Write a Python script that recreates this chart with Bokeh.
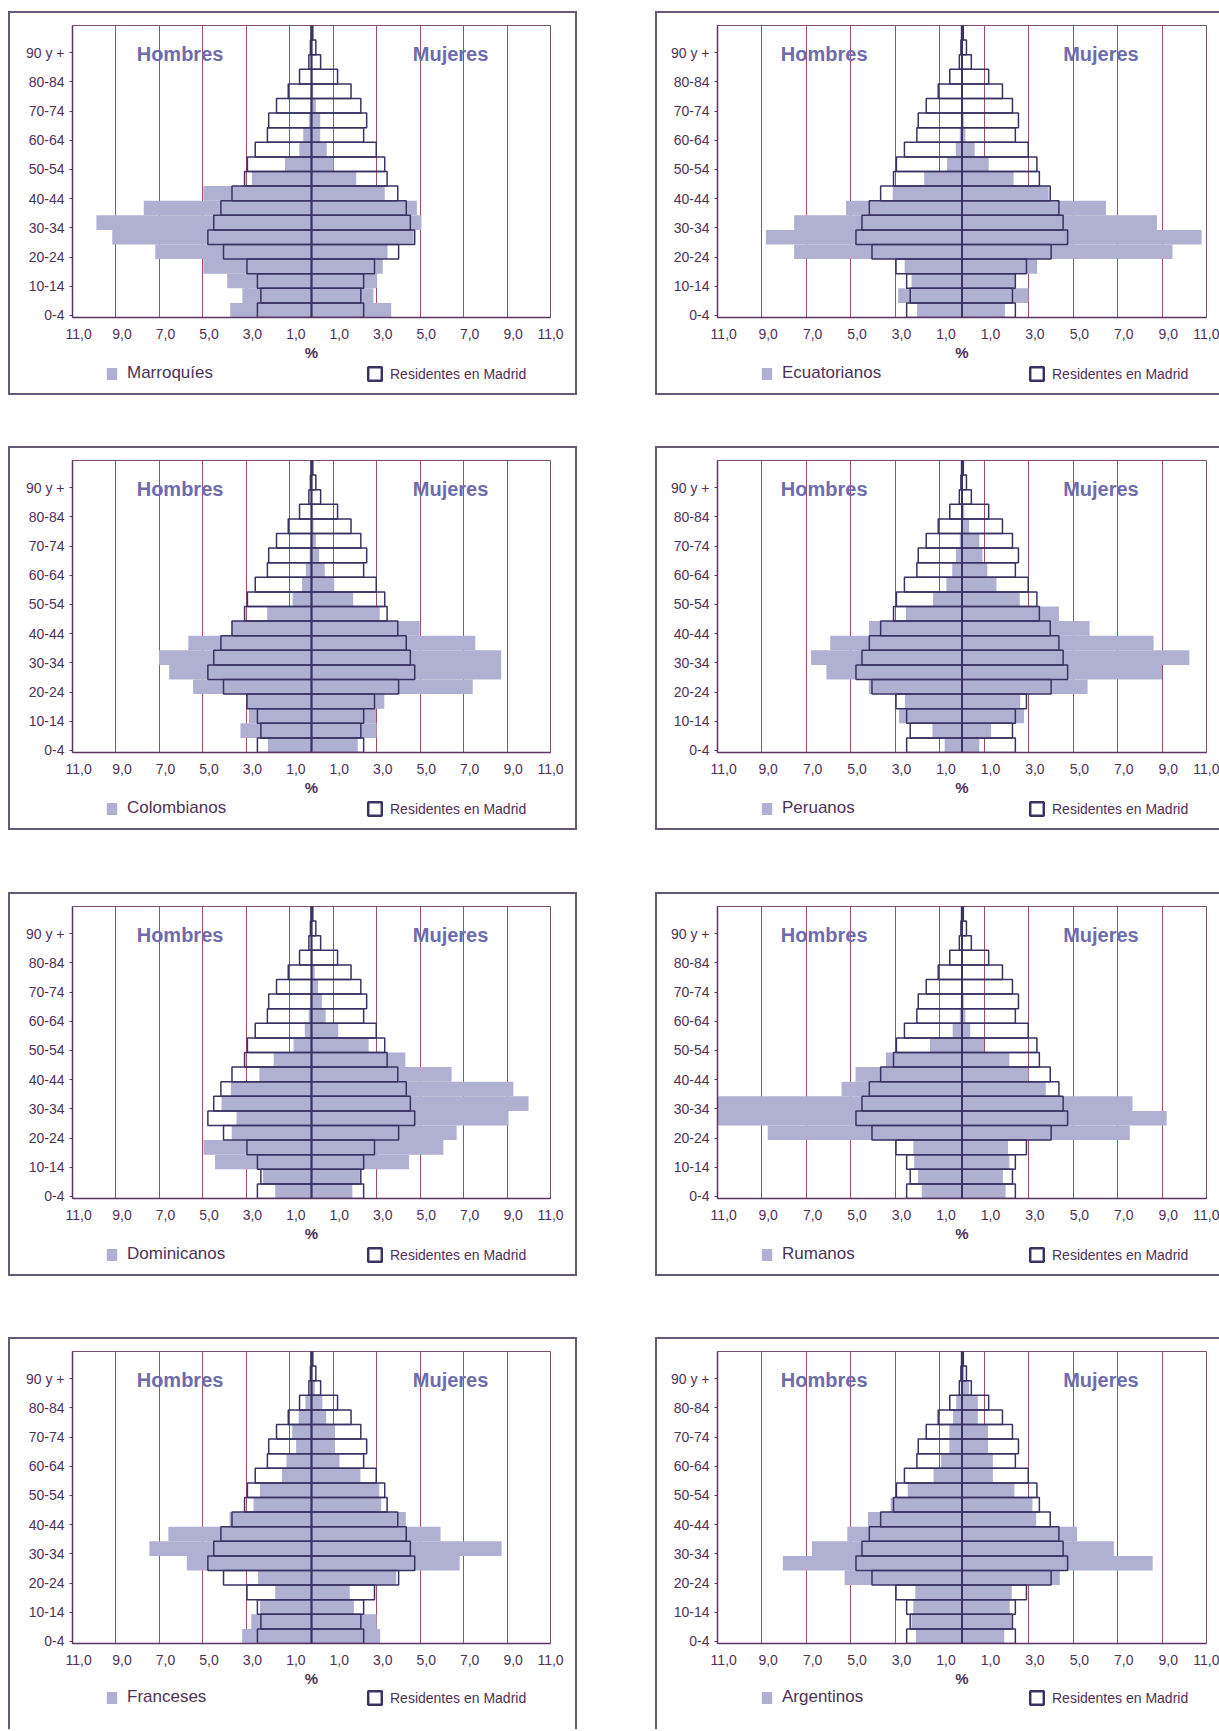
from bokeh.plotting import figure
from bokeh.models import FixedTicker, Span, Label, Legend, LegendItem, Range1d, Spacer
from bokeh.layouts import row, column
from bokeh.embed import file_html
from bokeh.resources import INLINE

# ---------------- data ----------------
AGE_GROUPS = ["0-4", "5-9", "10-14", "15-19", "20-24", "25-29", "30-34", "35-39",
              "40-44", "45-49", "50-54", "55-59", "60-64", "65-69", "70-74", "75-79",
              "80-84", "85-89", "90-94", "95 y +"]
Y_TICK_LABELS = ["0-4", "10-14", "20-24", "30-34", "40-44", "50-54", "60-64",
                 "70-74", "80-84", "90 y +"]
X_TICKS = [-11, -9, -7, -5, -3, -1, 1, 3, 5, 7, 9, 11]
X_TICK_LABELS = ["11,0", "9,0", "7,0", "5,0", "3,0", "1,0",
                 "1,0", "3,0", "5,0", "7,0", "9,0", "11,0"]

madrid_male = [2.49, 2.33, 2.49, 2.97, 4.05, 4.77, 4.50, 4.17, 3.66, 3.08,
               2.95, 2.59, 2.03, 1.97, 1.61, 1.07, 0.55, 0.12, 0.05, 0.02]
madrid_female = [2.40, 2.27, 2.40, 2.90, 4.01, 4.75, 4.55, 4.36, 3.97, 3.48,
                 3.37, 2.98, 2.40, 2.54, 2.27, 1.82, 1.20, 0.42, 0.20, 0.06]

marroquies_male = [3.74, 3.18, 3.88, 4.98, 7.19, 9.17, 9.90, 7.72, 4.98, 2.74,
                   1.22, 0.56, 0.38, 0.12, 0.05, 0.03, 0.02, 0.01, 0.0, 0.0]
marroquies_female = [3.67, 2.85, 3.02, 3.28, 3.50, 4.70, 5.06, 4.85, 3.37, 2.06,
                     1.01, 0.70, 0.40, 0.40, 0.20, 0.08, 0.05, 0.02, 0.01, 0.0]

ecuatorianos_male = [2.02, 2.87, 2.27, 2.58, 7.55, 8.82, 7.55, 5.22, 3.12, 1.70,
                     0.67, 0.28, 0.10, 0.05, 0.03, 0.02, 0.01, 0.01, 0.0, 0.0]
ecuatorianos_female = [1.93, 2.99, 2.41, 3.38, 9.47, 10.78, 8.77, 6.48, 3.90, 2.32,
                       1.20, 0.57, 0.15, 0.08, 0.05, 0.03, 0.02, 0.01, 0.0, 0.0]

colombianos_male = [2.01, 3.27, 2.88, 2.97, 5.45, 6.55, 7.02, 5.67, 3.67, 2.04,
                    0.87, 0.44, 0.26, 0.09, 0.05, 0.03, 0.02, 0.01, 0.0, 0.0]
colombianos_female = [2.13, 3.00, 2.97, 3.35, 7.42, 8.73, 8.73, 7.54, 4.98, 3.14,
                      1.92, 1.05, 0.61, 0.35, 0.20, 0.10, 0.05, 0.02, 0.01, 0.0]

peruanos_male = [0.78, 1.33, 2.83, 2.57, 4.19, 6.10, 6.79, 5.93, 4.19, 2.52,
                 1.30, 0.70, 0.44, 0.27, 0.10, 0.05, 0.02, 0.01, 0.0, 0.0]
peruanos_female = [0.78, 1.31, 2.79, 2.62, 5.65, 9.00, 10.23, 8.62, 5.74, 4.36,
                   2.60, 1.55, 1.14, 0.92, 0.78, 0.32, 0.10, 0.03, 0.01, 0.0]

dominicanos_male = [1.67, 2.23, 4.44, 4.97, 3.67, 3.45, 4.14, 3.71, 2.40, 1.74,
                    0.83, 0.31, 0.13, 0.05, 0.03, 0.02, 0.01, 0.0, 0.0, 0.0]
dominicanos_female = [1.88, 2.23, 4.49, 6.07, 6.68, 9.07, 9.99, 9.29, 6.45, 4.32,
                      2.63, 1.23, 0.65, 0.48, 0.30, 0.15, 0.05, 0.02, 0.0, 0.0]

rumanos_male = [1.81, 1.98, 2.15, 2.19, 8.74, 11.3, 11.3, 5.42, 4.79, 3.42,
                1.44, 0.42, 0.10, 0.05, 0.03, 0.02, 0.01, 0.0, 0.0, 0.0]
rumanos_female = [1.96, 1.84, 2.13, 2.07, 7.55, 9.21, 7.67, 3.77, 2.99, 2.13,
                  0.99, 0.37, 0.15, 0.08, 0.05, 0.03, 0.02, 0.01, 0.0, 0.0]

franceses_male = [3.19, 2.77, 2.37, 1.67, 2.46, 5.74, 7.46, 6.59, 3.77, 2.67,
                  2.37, 1.36, 1.15, 0.71, 0.89, 0.59, 0.28, 0.05, 0.02, 0.01]
franceses_female = [3.16, 3.00, 1.95, 1.76, 3.90, 6.82, 8.75, 5.94, 4.34, 3.21,
                    3.12, 2.25, 1.29, 1.08, 1.08, 0.68, 0.50, 0.15, 0.03, 0.01]

argentinos_male = [2.07, 2.27, 2.19, 2.10, 5.28, 8.06, 6.75, 5.16, 4.23, 3.21,
                   2.44, 1.28, 0.94, 0.57, 0.57, 0.40, 0.26, 0.05, 0.02, 0.01]
argentinos_female = [1.90, 2.24, 2.15, 2.24, 4.40, 8.58, 6.83, 5.18, 3.34, 3.17,
                     2.36, 1.39, 1.39, 1.17, 1.17, 0.71, 0.71, 0.32, 0.10, 0.02]

# ---------------- style ----------------
GRAY_FILL = "#B0B0D2"
BAR_LINE = "#3A3264"
GRID = "#A34C66"
FRAME = "#7B4F70"
AXIS = "#5A3560"
TEXT = "#4E3159"
TITLE = "#6E6CAE"
PANEL_BORDER = "#655A74"
FONT = "Liberation Sans"
BORDER = f"2px solid {PANEL_BORDER}"
LABEL_SHIFT = 0.28   # tick labels sit slightly right of their grid lines in the original


def legend_style(**kw):
    base = dict(orientation="horizontal", padding=0, margin=0, spacing=0,
                border_line_alpha=0, background_fill_alpha=0,
                label_text_font=FONT, label_text_color=TEXT)
    base.update(kw)
    return base


def make_panel(name, male, female, side, last_row):
    left_panel = side == "left"
    width = 569 if left_panel else 564
    mb_left = 62 if left_panel else 60
    mb_right = 29 if left_panel else 15
    mb_bottom = 47
    main_h = 2 + 12 + 290 + mb_bottom
    leg_h = (392 if last_row else 384) - main_h

    ys = [i + 0.5 for i in range(len(AGE_GROUPS))]
    neg = lambda v: [-x for x in v]
    zeros = [0] * len(AGE_GROUPS)

    p = figure(width=width, height=main_h, output_backend="svg", toolbar_location=None,
               x_range=Range1d(-11, 11), y_range=Range1d(0, len(AGE_GROUPS)),
               min_border_left=mb_left, min_border_right=mb_right,
               min_border_top=12, min_border_bottom=mb_bottom,
               background_fill_color="white", border_fill_color="white")

    # country population (grey, filled)
    p.hbar(y=ys, left=neg(male), right=zeros, height=1.0, fill_color=GRAY_FILL, line_alpha=0)
    p.hbar(y=ys, left=zeros, right=female, height=1.0, fill_color=GRAY_FILL, line_alpha=0)
    # Madrid residents (outline only)
    p.hbar(y=ys, left=neg(madrid_male), right=zeros, height=1.0,
           fill_alpha=0, line_color=BAR_LINE, line_width=1.5)
    p.hbar(y=ys, left=zeros, right=madrid_female, height=1.0,
           fill_alpha=0, line_color=BAR_LINE, line_width=1.5)

    p.add_layout(Span(location=0, dimension="height", line_color=BAR_LINE, line_width=1.6))

    # axes
    xlab_pos = [round(min(t + LABEL_SHIFT, 11), 2) for t in X_TICKS]
    p.xaxis.ticker = FixedTicker(ticks=xlab_pos)
    p.xaxis.major_label_overrides = {t: lab for t, lab in zip(xlab_pos, X_TICK_LABELS)}
    p.xaxis.major_label_text_font = FONT
    p.xaxis.major_label_text_font_size = "14px"
    p.xaxis.major_label_text_color = TEXT
    p.xaxis.major_label_standoff = 11
    p.xaxis.major_tick_out = 0
    p.xaxis.major_tick_in = 0
    p.xaxis.minor_tick_line_color = None
    p.xaxis.axis_line_color = AXIS
    p.xaxis.axis_line_width = 1.5
    p.xaxis.axis_label = "%"
    p.xaxis.axis_label_text_font = FONT
    p.xaxis.axis_label_text_font_style = "bold"
    p.xaxis.axis_label_text_font_size = "15px"
    p.xaxis.axis_label_text_color = TEXT
    p.xaxis.axis_label_standoff = 2

    ytick_pos = [round(2 * k + 0.14, 2) for k in range(len(Y_TICK_LABELS))]
    p.yaxis.ticker = FixedTicker(ticks=ytick_pos)
    p.yaxis.major_label_overrides = {t: lab for t, lab in zip(ytick_pos, Y_TICK_LABELS)}
    p.yaxis.major_label_text_font = FONT
    p.yaxis.major_label_text_font_size = "14px"
    p.yaxis.major_label_text_color = TEXT
    p.yaxis.major_label_standoff = 5
    p.yaxis.major_tick_out = 3
    p.yaxis.major_tick_in = 0
    p.yaxis.minor_tick_line_color = None
    p.yaxis.major_tick_line_color = AXIS
    p.yaxis.axis_line_color = AXIS
    p.yaxis.axis_line_width = 1.5

    p.xgrid.ticker = FixedTicker(ticks=X_TICKS)
    p.xgrid.grid_line_color = GRID
    p.xgrid.grid_line_width = 1
    p.ygrid.visible = False
    p.outline_line_color = FRAME
    p.outline_line_width = 1

    hx, mx = (-6.05, 6.4) if left_panel else (-6.2, 6.25)
    for txt, xv in (("Hombres", hx), ("Mujeres", mx)):
        p.add_layout(Label(x=xv, y=18.07, text=txt, text_align="center",
                           text_baseline="middle", text_font=FONT,
                           text_font_style="bold", text_font_size="20px",
                           text_color=TITLE))

    st = {"border-top": BORDER, "border-left": BORDER}
    if left_panel:
        st["border-right"] = BORDER
    p.styles = st

    # ---- legend strip under the chart (hidden proxy renderers, legend only) ----
    lp = figure(width=width, height=leg_h, output_backend="svg", toolbar_location=None,
                x_range=Range1d(-11, 11), y_range=Range1d(0, len(AGE_GROUPS)),
                x_axis_type=None, y_axis_type=None, min_border=0,
                min_border_left=mb_left, min_border_right=mb_right,
                background_fill_color="white", border_fill_color="white")
    lp.grid.visible = False
    lp.outline_line_color = None
    r_gray = lp.hbar(y=ys, left=neg(male), right=zeros, height=1.0,
                     fill_color=GRAY_FILL, line_alpha=0, visible=False)
    r_mad = lp.hbar(y=ys, left=neg(madrid_male), right=zeros, height=1.0, fill_alpha=0,
                    line_color=BAR_LINE, line_width=2.5, visible=False)
    lx1 = 33 if left_panel else 43
    lx2 = 294 if left_panel else 311
    content_h = leg_h - (0 if last_row else 2)
    lp.add_layout(Legend(items=[LegendItem(label=name, renderers=[r_gray])],
                         location=(lx1, content_h - 19), glyph_width=13, glyph_height=15,
                         label_standoff=9,
                         **legend_style(label_text_font_size="17px")))
    lp.add_layout(Legend(items=[LegendItem(label="Residentes en Madrid", renderers=[r_mad])],
                         location=(lx2, content_h - 18), glyph_width=17, glyph_height=17,
                         label_standoff=7,
                         **legend_style(label_text_font_size="14px")))
    lst = {"border-left": BORDER}
    if left_panel:
        lst["border-right"] = BORDER
    if not last_row:
        lst["border-bottom"] = BORDER
    lp.styles = lst
    return column(p, lp)


panels = [
    ("Marroquíes", marroquies_male, marroquies_female),
    ("Ecuatorianos", ecuatorianos_male, ecuatorianos_female),
    ("Colombianos", colombianos_male, colombianos_female),
    ("Peruanos", peruanos_male, peruanos_female),
    ("Dominicanos", dominicanos_male, dominicanos_female),
    ("Rumanos", rumanos_male, rumanos_female),
    ("Franceses", franceses_male, franceses_female),
    ("Argentinos", argentinos_male, argentinos_female),
]

gaps = [51, 62, 61]
items = [Spacer(width=10, height=11)]
for r in range(4):
    a = panels[2 * r]
    b = panels[2 * r + 1]
    last = r == 3
    pl = make_panel(a[0], a[1], a[2], "left", last)
    pr = make_panel(b[0], b[1], b[2], "right", last)
    items.append(row(Spacer(width=8, height=10), pl, Spacer(width=78, height=10), pr))
    if r < 3:
        items.append(Spacer(width=10, height=gaps[r]))

layout = column(*items)
open("out.html", "w").write(file_html(layout, INLINE))
